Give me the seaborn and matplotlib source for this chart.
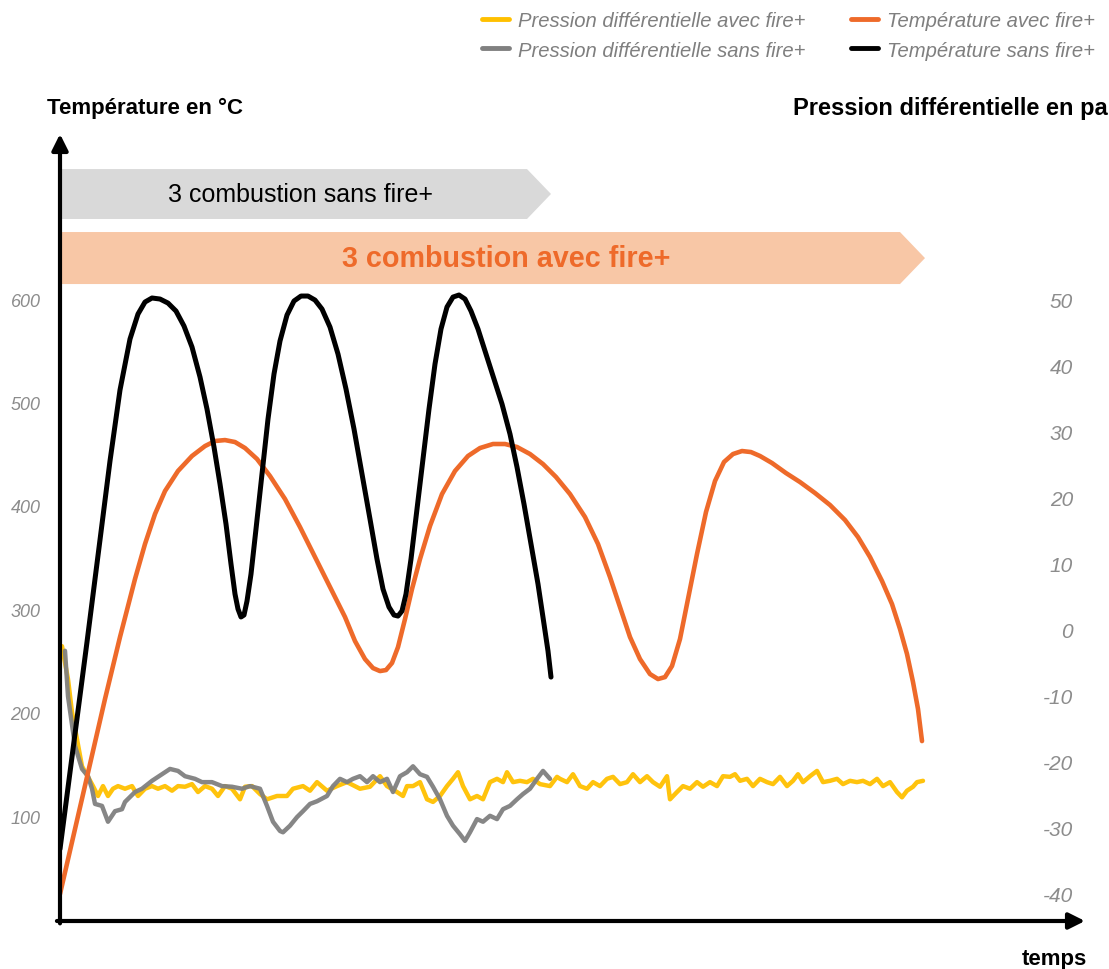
import matplotlib
matplotlib.use("Agg")
import matplotlib.pyplot as plt
from matplotlib.lines import Line2D
from matplotlib.patches import Polygon
import seaborn as sns
import pandas as pd

# ---------------- data ----------------
# Temperature without fire+ (black)
t_black = [0, 1.5, 2.7, 4.0, 5.0, 6.0, 7.0, 7.8, 8.5, 9.2, 10.0, 10.8, 11.6, 12.4, 13.2, 14.0, 14.7,
           15.4, 16.0, 16.6, 17.1, 17.5, 17.8, 18.1, 18.4, 18.7, 19.1, 19.6, 20.2, 20.8, 21.4, 22.0,
           22.7, 23.4, 24.1, 24.8, 25.5, 26.2, 27.0, 27.8, 28.6, 29.4, 30.2, 31.0, 31.7, 32.3, 32.9,
           33.4, 33.8, 34.2, 34.6, 35.1, 35.7, 36.3, 36.9, 37.5, 38.1, 38.7, 39.3, 39.9, 40.5, 41.1,
           41.8, 42.6, 43.4, 44.2, 45.0, 45.7, 46.4, 47.1, 47.8, 48.4, 48.8, 49.1]
T_black = [68.1, 179.5, 268.3, 367.1, 443.4, 512.0, 561.3, 585.5, 597.1, 601.0, 600.0, 596.1, 588.4,
           573.9, 553.6, 524.6, 493.6, 456.9, 421.1, 382.4, 343.7, 314.7, 300.2, 292.5, 294.4, 307.9,
           334.0, 377.6, 430.8, 483.9, 527.5, 559.4, 584.5, 598.1, 602.9, 602.9, 599.0, 590.3, 572.9,
           546.8, 513.0, 474.3, 430.8, 387.2, 348.5, 319.5, 302.1, 294.4, 293.4, 298.3, 314.7, 348.5,
           396.9, 445.3, 493.6, 537.1, 571.0, 592.3, 601.9, 603.9, 600.0, 588.4, 571.0, 546.8, 522.6,
           498.5, 469.4, 437.5, 401.7, 363.1, 324.4, 285.7, 259.6, 234.4]

# Temperature with fire+ (orange)
t_orange = [0, 1.5, 3, 4.5, 6, 7.5, 8.5, 9.5, 10.5, 11.8, 13.2, 14.5, 15.5, 16.5, 17.5, 18.5, 19.7,
            21, 22.5, 24, 25.5, 27, 28.5, 29.5, 30.5, 31.3, 32, 32.6, 33.2, 33.8, 34.5, 35.2, 36,
            37, 38.2, 39.5, 40.8, 42, 43.3, 44.5, 45.7, 47, 48.3, 49.6, 51, 52.5, 53.8, 55, 56, 57,
            58, 59, 59.8, 60.5, 61.2, 62, 62.8, 63.7, 64.6, 65.5, 66.4, 67.3, 68.2, 69.1, 70, 71.2,
            72.6, 74, 75.5, 77, 78.5, 79.8, 81, 82.2, 83.2, 84, 84.7, 85.3, 85.8, 86.2]
T_orange = [24.6, 87.4, 150.3, 213.2, 273.1, 329.2, 363.1, 392.1, 414.3, 433.7, 448.2, 457.8, 462.7,
            463.6, 461.7, 455.9, 445.3, 428.8, 406.6, 379.5, 350.5, 321.5, 292.5, 269.2, 251.8, 243.1,
            240.2, 241.2, 248.0, 263.4, 290.5, 319.5, 348.5, 380.5, 411.4, 433.7, 448.2, 455.9, 459.8,
            459.8, 456.9, 450.1, 440.4, 427.9, 411.4, 389.2, 363.1, 331.1, 302.1, 273.1, 251.8, 237.3,
            232.5, 234.4, 245.1, 271.2, 309.9, 353.4, 394.0, 424.0, 442.4, 450.1, 453.0, 452.0, 448.2,
            441.4, 431.7, 423.0, 412.4, 400.8, 386.3, 369.8, 350.5, 327.3, 305.0, 280.9, 256.7, 229.6,
            203.5, 172.5]

# Differential pressure with fire+ (yellow)
t_yellow = [0.2, 0.8, 1.2, 1.7, 2.2, 2.8, 3.3, 3.8, 4.3, 4.8, 5.3, 5.8, 6.5, 7.2, 7.8, 8.5, 9.2, 9.8,
            10.5, 11.2, 11.8, 12.5, 13.2, 13.8, 14.5, 15.2, 15.8, 16.5, 17.2, 18.0, 18.5, 19.2, 20.0,
            20.7, 21.7, 22.7, 23.3, 24.3, 25.0, 25.7, 26.7, 27.7, 28.7, 30.0, 31.0, 32.0, 32.7, 33.7,
            34.3, 34.7, 35.3, 36.0, 36.7, 37.3, 38.0, 38.7, 39.3, 39.8, 40.3, 41.0, 41.7, 42.3, 43.0,
            43.7, 44.3, 44.7, 45.3, 46.0, 46.7, 47.3, 48.0, 49.0, 49.7, 50.0, 50.7, 51.3, 52.0, 52.7,
            53.3, 54.0, 54.7, 55.3, 56.0, 56.7, 57.3, 58.0, 58.7, 59.3, 60.0, 60.7, 61.0, 61.7, 62.3,
            63.0, 63.7, 64.3, 65.0, 65.7, 66.3, 67.0, 67.5, 68.0, 68.7, 69.3, 70.0, 70.7, 71.3, 72.0,
            72.7, 73.3, 73.8, 74.3, 75.0, 75.7, 76.3, 77.0, 77.7, 78.3, 79.0, 79.7, 80.3, 81.0, 81.7,
            82.3, 83.0, 83.7, 84.2, 84.7, 85.3, 85.7, 86.3]
P_yellow = [-2.6, -7.6, -12.6, -16.7, -20.8, -22.4, -23.8, -25.3, -23.8, -25.3, -24.2, -23.8, -24.2,
            -23.8, -25.3, -24.2, -23.8, -24.2, -23.8, -24.5, -23.8, -23.9, -23.5, -24.7, -23.8, -24.2,
            -25.3, -23.8, -24.2, -25.8, -23.9, -23.8, -25.0, -25.8, -25.3, -25.3, -24.2, -23.8, -24.5,
            -23.2, -24.5, -23.8, -23.2, -24.2, -23.9, -22.3, -23.8, -24.7, -25.3, -23.8, -23.8, -23.2,
            -25.8, -26.2, -25.3, -23.8, -22.7, -21.7, -23.8, -25.8, -25.3, -25.8, -23.2, -22.7, -23.2,
            -21.7, -23.2, -23.0, -23.2, -22.7, -23.5, -23.8, -22.4, -22.7, -23.2, -22.0, -23.8, -24.2,
            -23.2, -23.8, -22.7, -22.4, -23.5, -23.2, -22.0, -23.2, -22.3, -23.2, -23.9, -22.3, -25.8,
            -24.7, -23.8, -24.2, -23.2, -23.9, -23.2, -23.8, -22.3, -22.4, -22.0, -23.0, -22.7, -23.8,
            -22.7, -23.2, -23.5, -22.4, -23.8, -23.0, -22.0, -23.2, -22.3, -21.5, -23.2, -23.0, -22.7,
            -23.5, -23.0, -23.2, -23.0, -23.5, -22.7, -23.8, -23.2, -24.7, -25.5, -24.5, -23.9, -23.2,
            -23.0]

# Differential pressure without fire+ (gray)
t_gray = [0.5, 0.8, 1.5, 2.2, 2.8, 3.2, 3.5, 4.2, 4.5, 4.8, 5.5, 6.2, 6.5, 7.5, 8.2, 9.2, 10.2,
          11.0, 11.8, 12.5, 13.5, 14.2, 15.2, 16.2, 17.2, 18.2, 19.0, 20.0, 20.7, 21.3, 22.0, 22.3,
          23.0, 23.7, 24.3, 25.0, 25.7, 26.7, 27.3, 28.0, 28.7, 29.3, 30.0, 30.7, 31.3, 32.0, 32.7,
          33.3, 34.0, 34.7, 35.3, 36.0, 36.7, 37.3, 38.0, 38.7, 39.3, 40.0, 40.5, 41.0, 41.7, 42.3,
          43.0, 43.7, 44.3, 45.0, 45.7, 46.3, 47.0, 47.7, 48.3, 49.0]
P_gray = [-3.3, -10.2, -17.7, -21.2, -22.3, -24.2, -26.5, -26.8, -28.0, -29.2, -27.6, -27.3, -26.2,
          -24.7, -24.2, -23.0, -22.0, -21.2, -21.5, -22.3, -22.7, -23.2, -23.2, -23.8, -23.9, -24.2,
          -23.8, -24.2, -26.8, -29.2, -30.6, -30.8, -29.8, -28.5, -27.6, -26.5, -26.1, -25.3, -23.8,
          -22.7, -23.2, -22.7, -22.3, -23.2, -22.3, -23.2, -22.7, -24.7, -22.3, -21.7, -20.8, -22.0,
          -22.4, -23.9, -25.8, -28.3, -29.8, -31.1, -32.1, -30.8, -28.8, -29.2, -28.3, -28.8, -27.3,
          -26.8, -25.8, -25.0, -24.2, -22.7, -21.5, -22.7]

temp_ticks = [100, 200, 300, 400, 500, 600]
pres_ticks = [-40, -30, -20, -10, 0, 10, 20, 30, 40, 50]

labels = {
    "yellow": "Pression différentielle avec fire+",
    "gray": "Pression différentielle sans fire+",
    "orange": "Température avec fire+",
    "black": "Température sans fire+",
}
band_sans = "3 combustion sans fire+"
band_avec = "3 combustion avec fire+"

# ---------------- style ----------------
sns.set_theme(style="white")
plt.rcParams["font.family"] = ["Liberation Sans", "DejaVu Sans"]
plt.rcParams["axes.unicode_minus"] = False

C_YEL = "#FFC000"
C_GRAY = "#808080"
C_ORANGE = "#EE6A2A"
C_BLACK = "#000000"
C_TICK = "#8C8C8C"

W, H = 1109, 970
fig = plt.figure(figsize=(W / 100, H / 100), dpi=100)
ax = fig.add_axes([60 / W, 48 / H, 1025 / W, 787 / H])
ax2 = ax.twinx()
ax.set_zorder(ax2.get_zorder() + 1)
ax.patch.set_visible(False)

ax.set_xlim(0, 102.5)
ax.set_ylim(-1.5, 759.6)
ax2.set_ylim(-44.24, 75)

# pressure lines (behind)
sns.lineplot(data=pd.DataFrame({"t": t_yellow, "p": P_yellow}), x="t", y="p", ax=ax2,
             color=C_YEL, linewidth=3.2, alpha=0.95)
sns.lineplot(data=pd.DataFrame({"t": t_gray, "p": P_gray}), x="t", y="p", ax=ax2,
             color=C_GRAY, linewidth=3.2, alpha=0.95)

# temperature lines
sns.lineplot(data=pd.DataFrame({"t": t_orange, "T": T_orange}), x="t", y="T", ax=ax,
             color=C_ORANGE, linewidth=3.3)
sns.lineplot(data=pd.DataFrame({"t": t_black, "T": T_black}), x="t", y="T", ax=ax,
             color=C_BLACK, linewidth=3.6)
for ln in ax.get_lines() + ax2.get_lines():
    ln.set_solid_joinstyle("round")
    ln.set_solid_capstyle("round")

# banner arrows
ax.add_patch(Polygon([(0, 725.7), (46.7, 725.7), (49.1, 701.6), (46.7, 677.4), (0, 677.4)],
                     closed=True, facecolor="#D9D9D9", edgecolor="none", zorder=1))
ax.add_patch(Polygon([(0, 664.8), (84.0, 664.8), (86.5, 639.6), (84.0, 614.5), (0, 614.5)],
                     closed=True, facecolor="#F8C7A6", edgecolor="none", zorder=1))
ax.text(24.1, 701.6, band_sans, ha="center", va="center", fontsize=18, color="black")
ax.text(44.6, 639.6, band_avec, ha="center", va="center", fontsize=20.7, color=C_ORANGE,
        fontweight="bold")

# axes / ticks
for a in (ax, ax2):
    for s in a.spines.values():
        s.set_visible(False)
    a.set_xlabel("")
    a.set_ylabel("")
    a.grid(False)
ax.set_xticks([])
ax.set_yticks(temp_ticks)
ax.set_yticklabels([str(v) for v in temp_ticks])
ax.tick_params(axis="y", length=0, pad=14, labelsize=13, labelcolor=C_TICK)
ax2.set_yticks(pres_ticks)
ax2.set_yticklabels([str(v) for v in pres_ticks])
ax2.tick_params(axis="y", length=0, pad=-8.6, labelsize=15, labelcolor=C_TICK)
for lab in ax.get_yticklabels() + ax2.get_yticklabels():
    lab.set_fontstyle("italic")
for lab in ax2.get_yticklabels():
    lab.set_horizontalalignment("right")

arrow_kw = dict(arrowstyle="-|>", lw=3.0, color="black", mutation_scale=24,
                shrinkA=0, shrinkB=0)
ax.annotate("", xy=(0, 1), xytext=(0, -0.003), xycoords="axes fraction",
            arrowprops=arrow_kw, zorder=10)
ax.annotate("", xy=(1, 0), xytext=(-0.003, 0), xycoords="axes fraction",
            arrowprops=arrow_kw, zorder=10)

# axis titles
fig.text(47 / W, 1 - 108 / H, "Température en °C", ha="left", va="center",
         fontsize=16, fontweight="bold", color="black")
fig.text(793 / W, 1 - 109 / H, "Pression différentielle en pa", ha="left", va="center",
         fontsize=17, fontweight="bold", color="black")
fig.text(1054 / W, 1 - 960 / H, "temps", ha="center", va="center",
         fontsize=16, fontweight="bold", color="black")

# legend
handles = [Line2D([], [], color=C_YEL, lw=3.5), Line2D([], [], color=C_GRAY, lw=3.5),
           Line2D([], [], color=C_ORANGE, lw=3.5), Line2D([], [], color=C_BLACK, lw=3.5)]
leg = fig.legend(handles, [labels["yellow"], labels["gray"], labels["orange"], labels["black"]],
                 loc="upper right", bbox_to_anchor=(1095 / W, 1 - 12 / H), ncol=2, frameon=False,
                 prop={"size": 14.6, "style": "italic"}, handlelength=1.35, handletextpad=0.45,
                 columnspacing=2.2, labelspacing=0.52, borderpad=0, borderaxespad=0)
for txt in leg.get_texts():
    txt.set_color("#7F7F7F")

fig.savefig("out.png", dpi=100)
